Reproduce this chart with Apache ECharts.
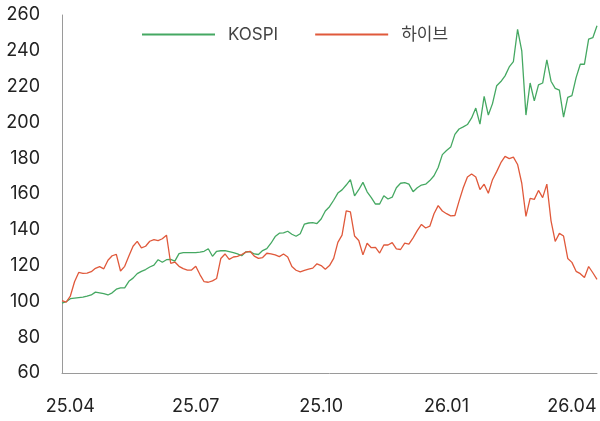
<!DOCTYPE html>
<html>
<head>
<meta charset="utf-8">
<script src="https://cdn.jsdelivr.net/npm/echarts@6/dist/echarts.min.js"></script>
<style>
  html, body { margin: 0; padding: 0; background: #fff; }
  #chart { width: 600px; height: 421px; }
</style>
</head>
<body>
<div id="chart"></div>
<script>
// quarter tick labels, one every 30 points starting at point 2
const tickLabels = ['25.04', '25.07', '25.10', '26.01', '26.04'];

// indexed, start = 100
const kospi = [
  99, 99.8, 101.5, 101.8, 102.1, 102.4, 102.9, 103.6, 105.2, 104.8,
  104.3, 103.6, 104.8, 106.8, 107.5, 107.6, 111.2, 113, 115.5, 116.8,
  117.8, 119.2, 120.3, 123.3, 121.9, 123.3, 123.5, 122.5, 126.7, 127.2,
  127.3, 127.3, 127.2, 127.5, 128, 129.4, 125.2, 128, 128.3, 128.4,
  127.8, 127.2, 126.5, 125.5, 127.7, 127.8, 126.5, 126.2, 128.4, 129.5,
  132.5, 136.2, 138.1, 138.3, 139.2, 137.5, 136.4, 137.8, 143.2, 143.8,
  144, 143.5, 146, 150.5, 152.9, 156.5, 160.5, 162.3, 165, 168,
  159, 162.4, 166.5, 161.2, 158, 154.4, 154.4, 159, 157.2, 158.2,
  163.5, 166, 166.4, 165.5, 161.3, 163.5, 165, 165.5, 167.5, 170.2,
  174.8, 182, 184.3, 186.2, 193.3, 196.3, 197.5, 198.8, 202.5, 208,
  199, 214.5, 204.1, 210.5, 220.5, 222.8, 226, 231, 234, 252,
  240, 204.1, 222, 212, 221, 222, 235, 223, 219, 218,
  203, 214, 215, 225, 232.5, 232.5, 246.5, 247.3, 254
];

const hybe = [
  100.4, 99.6, 103, 111, 116.2, 115.7, 115.8, 116.6, 118.5, 119.4,
  118.2, 123, 125.5, 126.3, 117, 119.6, 125.3, 130.8, 133.5, 129.9,
  130.8, 133.6, 134.5, 134, 135, 137, 121.3, 122, 119.6, 118.3,
  117.5, 117.5, 119.6, 115, 111, 110.7, 111.5, 112.8, 124, 126.5,
  123.5, 124.8, 125.2, 126.2, 127.5, 128, 125.3, 124, 124.5, 126.9,
  126.5, 126, 125, 126.5, 124.8, 119.5, 117.4, 116.5, 117.3, 118,
  118.6, 121, 120, 118, 120, 124, 133, 137, 150.6, 150,
  136.5, 134, 126, 132.5, 130, 130.2, 127, 131.5, 131.5, 132.8,
  129.3, 129, 132.5, 132, 135.5, 139.5, 143, 141, 142, 149,
  153.5, 150.5, 149, 147.8, 148, 156, 163.5, 169.5, 171.2, 169.5,
  162.5, 165.5, 160.4, 168, 172.5, 177.5, 181, 179.8, 180.6, 176.5,
  166, 147.5, 157.5, 157, 162, 158, 165.5, 145, 133.5, 138,
  136.5, 124, 121.8, 116.8, 115.5, 113.3, 119.5, 116, 112.3
];

const xCats = kospi.map((_, i) => ((i - 2) % 30 === 0 ? tickLabels[(i - 2) / 30] : ''));

const font = 'Inter, "Noto Sans CJK KR", sans-serif';
const chart = echarts.init(document.getElementById('chart'));

chart.setOption({
  animation: false,
  textStyle: { fontFamily: font },
  grid: { left: 62, right: 0, top: 15, bottom: 48 },
  legend: {
    left: 137,
    top: 21,
    itemWidth: 73,
    itemHeight: 14,
    itemGap: 37,
    icon: 'path://M0,6 L73,6 L73,8 L0,8 Z',
    textStyle: { fontSize: 17, color: '#444', fontFamily: font, padding: [0, 0, 0, 8] },
    data: ['KOSPI', '하이브']
  },
  xAxis: {
    type: 'category',
    boundaryGap: false,
    data: xCats,
    axisLine: { lineStyle: { color: '#9a9a9a', width: 1 } },
    axisTick: { show: false },
    axisLabel: { interval: 0, fontSize: 18, color: '#222', margin: 25, fontFamily: font }
  },
  yAxis: {
    type: 'value',
    min: 60,
    max: 260,
    interval: 20,
    axisLine: { show: true, lineStyle: { color: '#9a9a9a', width: 1 } },
    axisTick: { show: false },
    splitLine: { show: false },
    axisLabel: { fontSize: 18, color: '#222', margin: 22, fontFamily: font }
  },
  series: [
    {
      name: 'KOSPI',
      type: 'line',
      data: kospi,
      symbol: 'none',
      color: '#45a862',
      lineStyle: { width: 1.3, color: '#45a862' }
    },
    {
      name: '하이브',
      type: 'line',
      data: hybe,
      symbol: 'none',
      color: '#e0593b',
      lineStyle: { width: 1.3, color: '#e0593b' }
    }
  ]
});
</script>
</body>
</html>
